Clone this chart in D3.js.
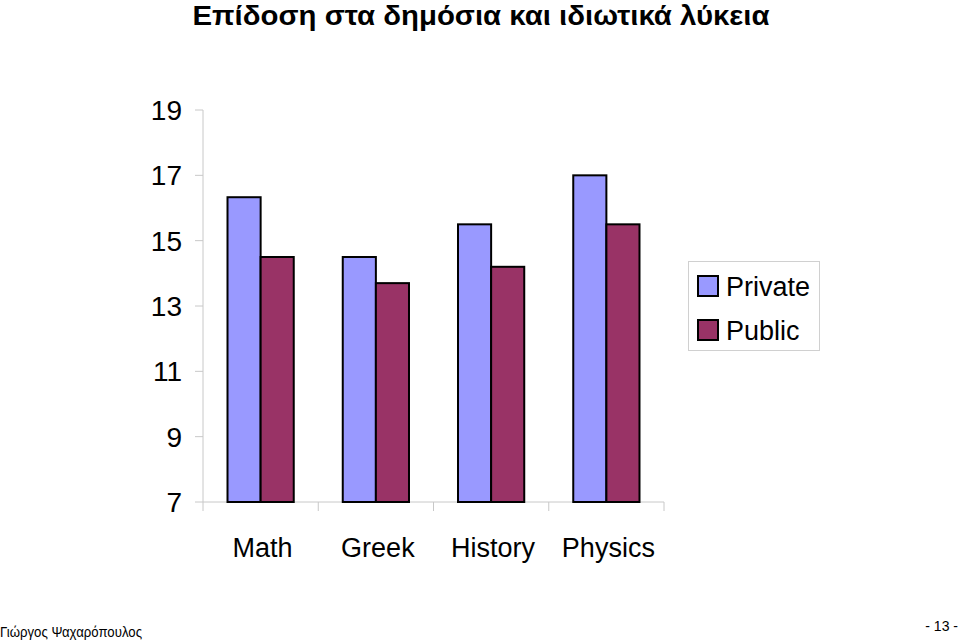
<!DOCTYPE html>
<html><head><meta charset="utf-8">
<script src="https://cdn.jsdelivr.net/npm/d3@7"></script>
<style>body{margin:0;background:#fff}svg{display:block}text{font-family:"Liberation Sans",Arial,sans-serif}</style>
</head><body>
<script>
const categories = ["Math","Greek","History","Physics"];
const seriesNames = ["Private","Public"];
const privateVals = [16.33,14.5,15.5,17];
const publicVals = [14.5,13.7,14.2,15.5];
const yTicks = [7,9,11,13,15,17,19];
const colors = ["#9999ff","#993366"];
const titleText = "Επίδοση στα δημόσια και ιδιωτικά λύκεια";
const footerLeft = "Γιώργος Ψαχαρόπουλος";
const footerRight = "- 13 -";

const W=960,H=640;
const svg=d3.select("body").append("svg").attr("width",W).attr("height",H);
const x0=203,x1=664,yTop=110,yBot=502;
const x=d3.scaleBand().domain(categories).range([x0,x1]).paddingInner(0).paddingOuter(0);
const xs=d3.scaleBand().domain(seriesNames).range([0,x.bandwidth()]).paddingInner(0).paddingOuter(0.74);
const y=d3.scaleLinear().domain([7,19]).range([yBot,yTop]);

svg.append("text").attr("x",481).attr("y",25).attr("text-anchor","middle")
 .attr("font-size",27).attr("font-weight","bold")
 .attr("textLength",577).attr("lengthAdjust","spacingAndGlyphs").text(titleText);

// y axis
const ya=svg.append("g");
ya.append("line").attr("x1",x0).attr("x2",x0).attr("y1",yTop).attr("y2",yBot).attr("stroke","#c8c8c8");
ya.selectAll("line.t").data(yTicks).join("line").attr("class","t")
 .attr("x1",x0-8).attr("x2",x0).attr("y1",d=>y(d)).attr("y2",d=>y(d)).attr("stroke","#c8c8c8");
ya.selectAll("text").data(yTicks).join("text").attr("x",182).attr("y",d=>y(d)+10)
 .attr("text-anchor","end").attr("font-size",28).text(d=>d);

// x axis
svg.append("line").attr("x1",x0).attr("x2",x1).attr("y1",yBot).attr("y2",yBot).attr("stroke","#c8c8c8");
const bounds=categories.map(c=>x(c)).concat([x1]);
svg.selectAll("line.xt").data(bounds).join("line").attr("class","xt")
 .attr("x1",d=>d).attr("x2",d=>d).attr("y1",yBot).attr("y2",yBot+9).attr("stroke","#c8c8c8");
svg.selectAll("text.xl").data(categories).join("text").attr("class","xl")
 .attr("x",d=>x(d)+x.bandwidth()/2+2).attr("y",557).attr("text-anchor","middle")
 .attr("font-size",27).text(d=>d);

// bars
const data=[privateVals,publicVals];
data.forEach((vals,si)=>{
  svg.append("g").selectAll("rect").data(vals).join("rect")
   .attr("x",(d,i)=>x(categories[i])+xs(seriesNames[si]))
   .attr("width",xs.bandwidth())
   .attr("y",d=>y(d)).attr("height",d=>yBot-y(d))
   .attr("fill",colors[si]).attr("stroke","#000").attr("stroke-width",2);
});

// legend
const lg=svg.append("g");
lg.append("rect").attr("x",688.5).attr("y",261.5).attr("width",131).attr("height",89)
 .attr("fill","#fff").attr("stroke","#d0d0d0");
seriesNames.forEach((s,i)=>{
  lg.append("rect").attr("x",698).attr("y",276+i*44).attr("width",20).attr("height",20)
   .attr("fill",colors[i]).attr("stroke","#000").attr("stroke-width",2);
  lg.append("text").attr("x",726).attr("y",296+i*44).attr("font-size",27).text(s);
});

// footer
svg.append("text").attr("x",0).attr("y",637).attr("font-size",14)
 .attr("textLength",142).attr("lengthAdjust","spacingAndGlyphs").text(footerLeft);
svg.append("text").attr("x",958).attr("y",631).attr("text-anchor","end").attr("font-size",14)
 .text(footerRight);
</script>
</body></html>
